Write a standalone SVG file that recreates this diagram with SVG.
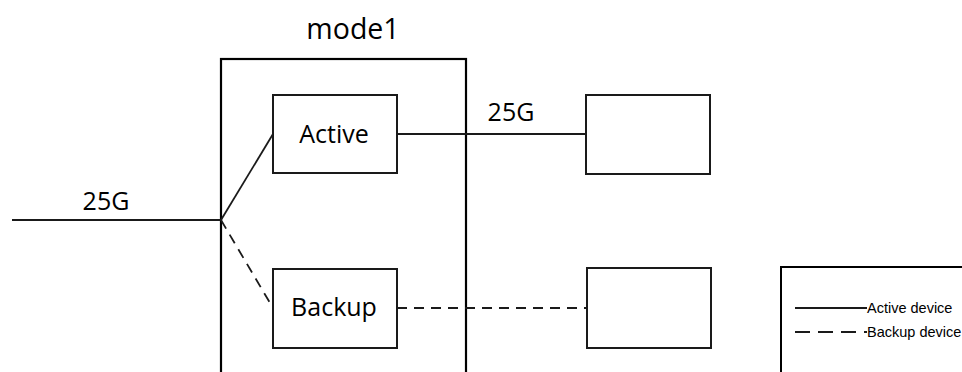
<svg xmlns="http://www.w3.org/2000/svg" width="962" height="372" viewBox="0 0 962 372">
<style>
.box{fill:#fff;stroke:#1a1a1a;stroke-width:2}
.big{font-family:"Open Sans","Liberation Sans",sans-serif;font-size:25px;fill:#000}
.leg{font-family:"Liberation Sans",Arial,sans-serif;font-size:14.5px;fill:#000}
.ln{fill:none;stroke:#1a1a1a;stroke-width:1.8}
.dash{stroke-dasharray:10 7}
</style>
<rect width="962" height="372" fill="#fff"/>
<g id="mode1">
<rect x="221" y="59" width="245" height="330" fill="#fff" stroke="#000" stroke-width="2.2"/>
<text class="big" x="353" y="39" text-anchor="middle" style="font-size:28.5px">mode1</text>
</g>
<g id="connectors">
<line class="ln" x1="12" y1="220" x2="221" y2="220"/>
<line class="ln" x1="221" y1="220" x2="273" y2="134"/>
<line class="ln dash" x1="221" y1="220" x2="273" y2="308"/>
<line class="ln" x1="397" y1="134" x2="586" y2="134"/>
<line class="ln dash" x1="397" y1="308" x2="587" y2="308"/>
<text class="big" x="106" y="210" text-anchor="middle">25G</text>
<text class="big" x="511" y="121" text-anchor="middle">25G</text>
</g>
<g id="active">
<rect class="box" x="273" y="95" width="124" height="78"/>
<text class="big" x="334" y="143" text-anchor="middle">Active</text>
</g>
<g id="backup">
<rect class="box" x="273" y="269" width="124" height="79"/>
<text class="big" x="334" y="316" text-anchor="middle">Backup</text>
</g>
<g id="device1">
<rect class="box" x="586" y="95" width="124" height="79"/>
</g>
<g id="device2">
<rect class="box" x="587" y="268" width="124" height="80"/>
</g>
<g id="legend">
<rect x="781" y="267" width="200" height="120" fill="#fff" stroke="#000" stroke-width="2"/>
<line class="ln" x1="795" y1="308" x2="867" y2="308"/>
<line class="ln" x1="795" y1="332" x2="867" y2="332" style="stroke-dasharray:15 8"/>
<text class="leg" x="867" y="313">Active device</text>
<text class="leg" x="867" y="337">Backup device</text>
</g>
</svg>
